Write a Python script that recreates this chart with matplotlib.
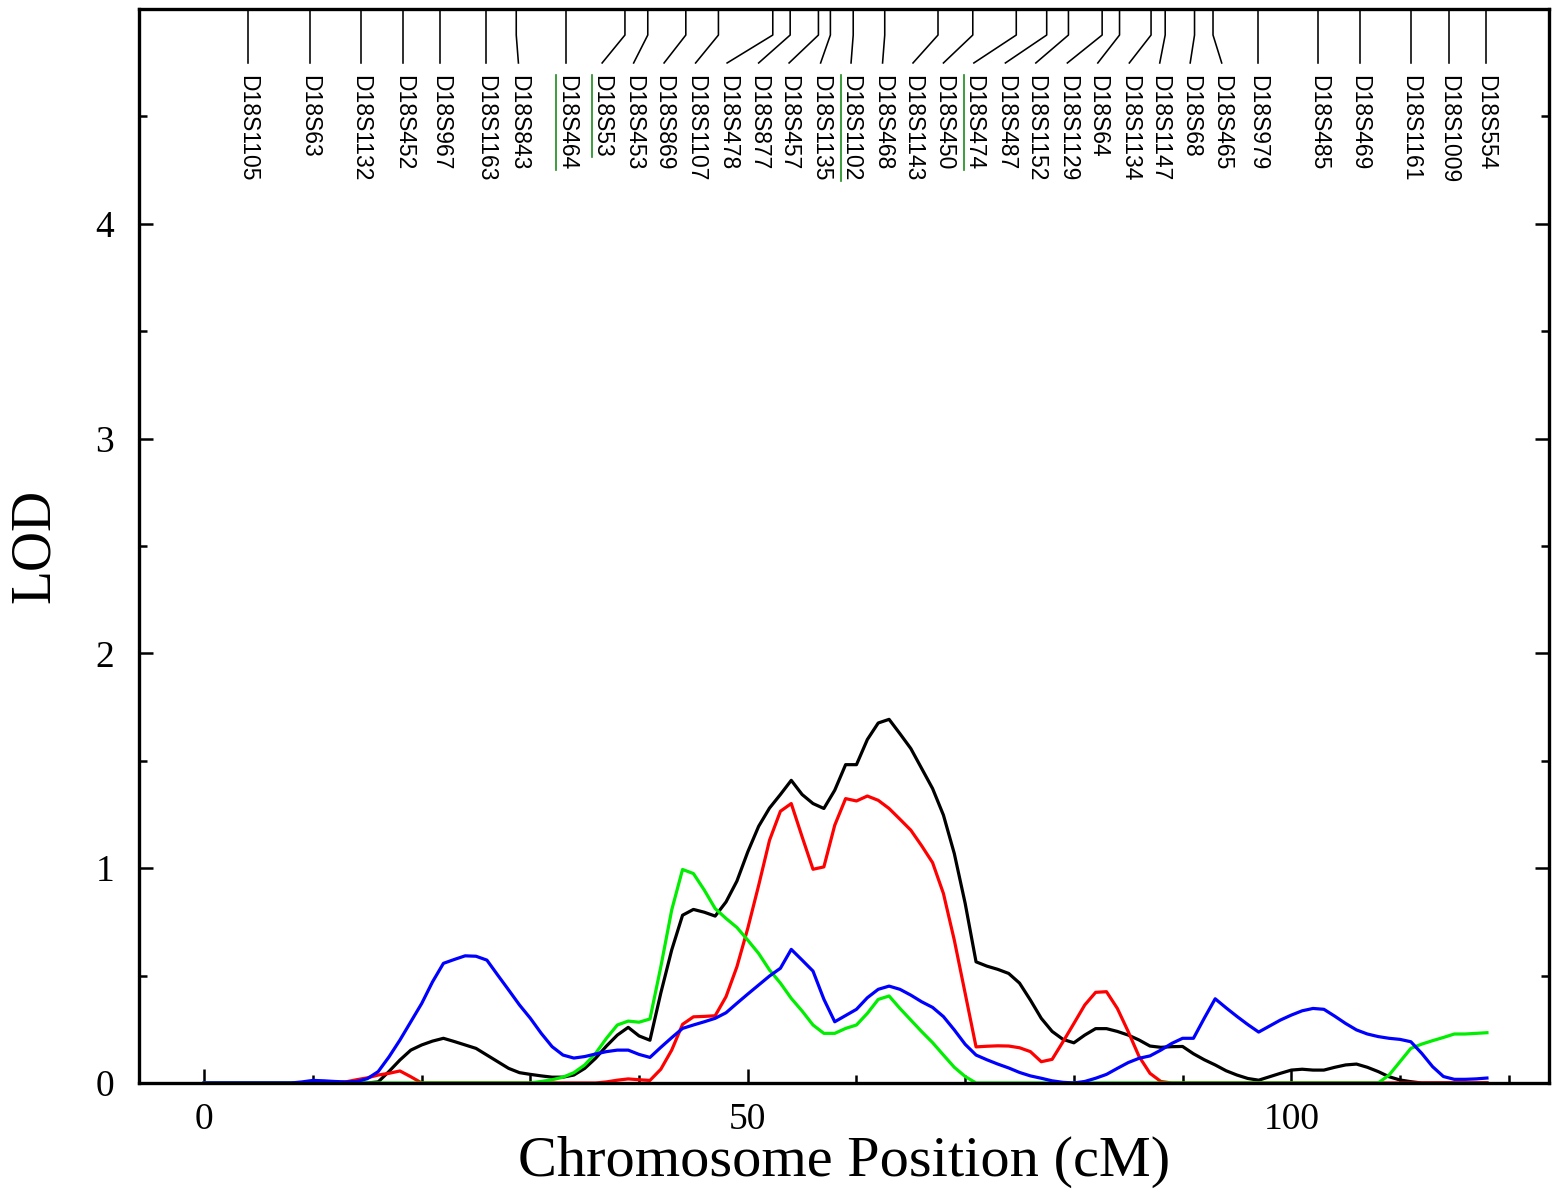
import numpy as np
import matplotlib
matplotlib.use('Agg')
from matplotlib import pyplot as plt
from matplotlib.ticker import FixedLocator

# LOD scores on a 1 cM grid, 0..118 cM
pos = np.arange(0, 119)

lod_black = [0, 0, 0, 0, 0, 0, 0, 0, 0, 0,
             0, 0, 0, 0, 0, 0, 0.005, 0.054, 0.107, 0.153,
             0.177, 0.195, 0.208, 0.193, 0.177, 0.161, 0.13, 0.099, 0.068, 0.048,
             0.040, 0.033, 0.027, 0.027, 0.037, 0.068, 0.115, 0.172, 0.223, 0.259,
             0.219, 0.199, 0.419, 0.619, 0.781, 0.808, 0.795, 0.777, 0.843, 0.94,
             1.076, 1.195, 1.28, 1.343, 1.409, 1.343, 1.301, 1.278, 1.363, 1.482,
             1.482, 1.599, 1.676, 1.693, 1.626, 1.557, 1.464, 1.371, 1.247, 1.068,
             0.836, 0.564, 0.544, 0.529, 0.51, 0.465, 0.386, 0.301, 0.24, 0.203,
             0.187, 0.223, 0.253, 0.253, 0.24, 0.223, 0.2, 0.172, 0.166, 0.169,
             0.170, 0.136, 0.108, 0.084, 0.057, 0.037, 0.021, 0.013, 0.029, 0.045,
             0.06, 0.064, 0.06, 0.06, 0.073, 0.084, 0.088, 0.073, 0.053, 0.029,
             0.014, 0.006, 0, 0, 0, 0, 0, 0, 0]

lod_red = [0, 0, 0, 0, 0, 0, 0, 0, 0, 0,
           0, 0, 0, 0.005, 0.015, 0.024, 0.037, 0.045, 0.056, 0.029,
           0, 0, 0, 0, 0, 0, 0, 0, 0, 0,
           0, 0, 0, 0, 0, 0, 0, 0.005, 0.013, 0.019,
           0.015, 0.012, 0.064, 0.153, 0.273, 0.308, 0.31, 0.313, 0.402, 0.541,
           0.72, 0.92, 1.13, 1.265, 1.301, 1.146, 0.995, 1.006, 1.2, 1.324,
           1.313, 1.336, 1.316, 1.278, 1.228, 1.177, 1.104, 1.026, 0.882, 0.665,
           0.417, 0.168, 0.171, 0.173, 0.172, 0.164, 0.146, 0.099, 0.11, 0.192,
           0.277, 0.363, 0.422, 0.425, 0.347, 0.239, 0.123, 0.045, 0.007, 0,
           0, 0, 0, 0, 0, 0, 0, 0, 0, 0,
           0, 0, 0, 0, 0, 0, 0, 0, 0, 0,
           0, 0, 0, 0, 0, 0, 0, 0, 0]

lod_green = [0, 0, 0, 0, 0, 0, 0, 0, 0, 0,
             0, 0, 0, 0, 0, 0, 0, 0, 0, 0,
             0, 0, 0, 0, 0, 0, 0, 0, 0, 0,
             0, 0.007, 0.015, 0.027, 0.048, 0.084, 0.138, 0.208, 0.27, 0.288,
             0.283, 0.298, 0.541, 0.805, 0.994, 0.975, 0.898, 0.812, 0.766, 0.724,
             0.665, 0.603, 0.526, 0.465, 0.394, 0.335, 0.270, 0.231, 0.231, 0.254,
             0.27, 0.324, 0.389, 0.405, 0.347, 0.293, 0.239, 0.188, 0.13, 0.073,
             0.03, 0, 0, 0, 0, 0, 0, 0, 0, 0,
             0, 0, 0, 0, 0, 0, 0, 0, 0, 0,
             0, 0, 0, 0, 0, 0, 0, 0, 0, 0,
             0, 0, 0, 0, 0, 0, 0, 0, 0, 0.037,
             0.099, 0.161, 0.181, 0.197, 0.212, 0.228, 0.228, 0.231, 0.234]

lod_blue = [0, 0, 0, 0, 0, 0, 0, 0, 0, 0.005,
            0.012, 0.01, 0.007, 0.005, 0.007, 0.02, 0.053, 0.122, 0.2, 0.285,
            0.37, 0.471, 0.557, 0.575, 0.592, 0.59, 0.572, 0.502, 0.433, 0.363,
            0.301, 0.231, 0.169, 0.130, 0.116, 0.123, 0.135, 0.146, 0.153, 0.153,
            0.133, 0.119, 0.166, 0.211, 0.254, 0.27, 0.285, 0.301, 0.327, 0.371,
            0.414, 0.456, 0.498, 0.534, 0.622, 0.572, 0.521, 0.39, 0.285, 0.314,
            0.343, 0.397, 0.436, 0.451, 0.436, 0.409, 0.378, 0.352, 0.309, 0.247,
            0.18, 0.13, 0.108, 0.088, 0.07, 0.049, 0.033, 0.022, 0.01, 0.003,
            0, 0.007, 0.022, 0.04, 0.068, 0.095, 0.115, 0.126, 0.153, 0.184,
            0.208, 0.208, 0.302, 0.392, 0.35, 0.31, 0.272, 0.237, 0.265, 0.293,
            0.316, 0.336, 0.347, 0.343, 0.311, 0.277, 0.247, 0.228, 0.216, 0.208,
            0.203, 0.192, 0.138, 0.076, 0.03, 0.017, 0.017, 0.019, 0.023]

# markers along the chromosome (cM)
marker_names = ['D18S1105', 'D18S63', 'D18S1132', 'D18S452', 'D18S967', 'D18S1163',
                'D18S843', 'D18S464', 'D18S53', 'D18S453', 'D18S869', 'D18S1107',
                'D18S478', 'D18S877', 'D18S457', 'D18S1135', 'D18S1102', 'D18S468',
                'D18S1143', 'D18S450', 'D18S474', 'D18S487', 'D18S1152', 'D18S1129',
                'D18S64', 'D18S1134', 'D18S1147', 'D18S68', 'D18S465', 'D18S979',
                'D18S485', 'D18S469', 'D18S1161', 'D18S1009', 'D18S554']
marker_pos = [4.0, 9.7, 14.4, 18.3, 21.7, 25.9, 28.7, 33.3, 38.7, 40.8, 44.3, 47.3,
              52.3, 53.9, 56.5, 57.6, 59.7, 62.6, 67.5, 70.7, 74.7, 77.5, 79.5, 82.6,
              84.2, 87.1, 88.4, 91.1, 92.8, 96.9, 102.5, 106.3, 111.0, 114.5, 117.9]
highlighted = ['D18S464', 'D18S53', 'D18S1102', 'D18S474']

# where the rotated names sit (spread out so they do not overlap)
label_pos = [4.0, 9.7, 14.4, 18.3, 21.7, 25.9, 28.9, 33.3, 36.6, 39.5, 42.3, 45.2,
             48.1, 51.0, 53.8, 56.7, 59.5, 62.4, 65.2, 68.0, 70.8, 73.7, 76.5, 79.4,
             82.2, 85.1, 87.9, 90.7, 93.6, 96.9, 102.5, 106.3, 111.0, 114.5, 117.9]

serif = 'Liberation Serif'

fig = plt.figure(figsize=(15.52, 11.91), dpi=100)
ax = fig.add_axes([0.0896, 0.0907, 0.9084, 0.9017])

ax.plot(pos, lod_black, color='black', lw=2.3)
ax.plot(pos, lod_red, color='#ff0000', lw=2.3)
ax.plot(pos, lod_green, color='#00ee00', lw=2.3)
ax.plot(pos, lod_blue, color='#0000ff', lw=2.3)

ax.set_xlim(-6, 123.7)
ax.set_ylim(0, 5)

# marker ticks with leader lines down to the names
y_top, y_bend, y_end, y_text = 5.0, 4.879, 4.749, 4.695
texts = []
for name, mp, lp in zip(marker_names, marker_pos, label_pos):
    ax.plot([mp, mp, lp], [y_top, y_bend, y_end], color='black', lw=1.15)
    t = ax.text(lp, y_text, name, rotation=270, ha='center', va='top',
                fontsize=16.5, family='Liberation Sans')
    texts.append((name, t))

fig.canvas.draw()
inv = ax.transData.inverted()
for name, t in texts:
    if name in highlighted:
        bb = t.get_window_extent().transformed(inv)
        ax.plot([bb.x0 + 0.15, bb.x0 + 0.15], [bb.y0, bb.y1], color='#1a8c1a', lw=1.2)

for s in ax.spines.values():
    s.set_linewidth(2.4)

ax.xaxis.set_major_locator(FixedLocator([0, 50, 100]))
ax.xaxis.set_minor_locator(FixedLocator([10, 20, 30, 40, 60, 70, 80, 90, 110, 120]))
ax.yaxis.set_major_locator(FixedLocator([0, 1, 2, 3, 4]))
ax.yaxis.set_minor_locator(FixedLocator([0.5, 1.5, 2.5, 3.5, 4.5]))
ax.tick_params(which='both', direction='in', top=False, right=True, width=1.8)
ax.tick_params(which='major', length=10)
ax.tick_params(which='minor', length=5.5)
ax.tick_params(axis='x', which='major', pad=14, labelsize=27)
ax.tick_params(axis='y', which='major', pad=18, labelsize=27)
for lab in ax.get_xticklabels() + ax.get_yticklabels():
    lab.set_family(serif)

ax.set_xlabel('Chromosome Position (cM)', fontsize=42, family=serif)
ax.set_ylabel('LOD', fontsize=40, family=serif)
ax.xaxis.set_label_coords(0.5, -0.0736)
ax.xaxis.label.set_va('center')
ax.yaxis.set_label_coords(-0.0738, 0.5)
ax.yaxis.label.set_va('center')

plt.savefig('out.png', dpi=100)
